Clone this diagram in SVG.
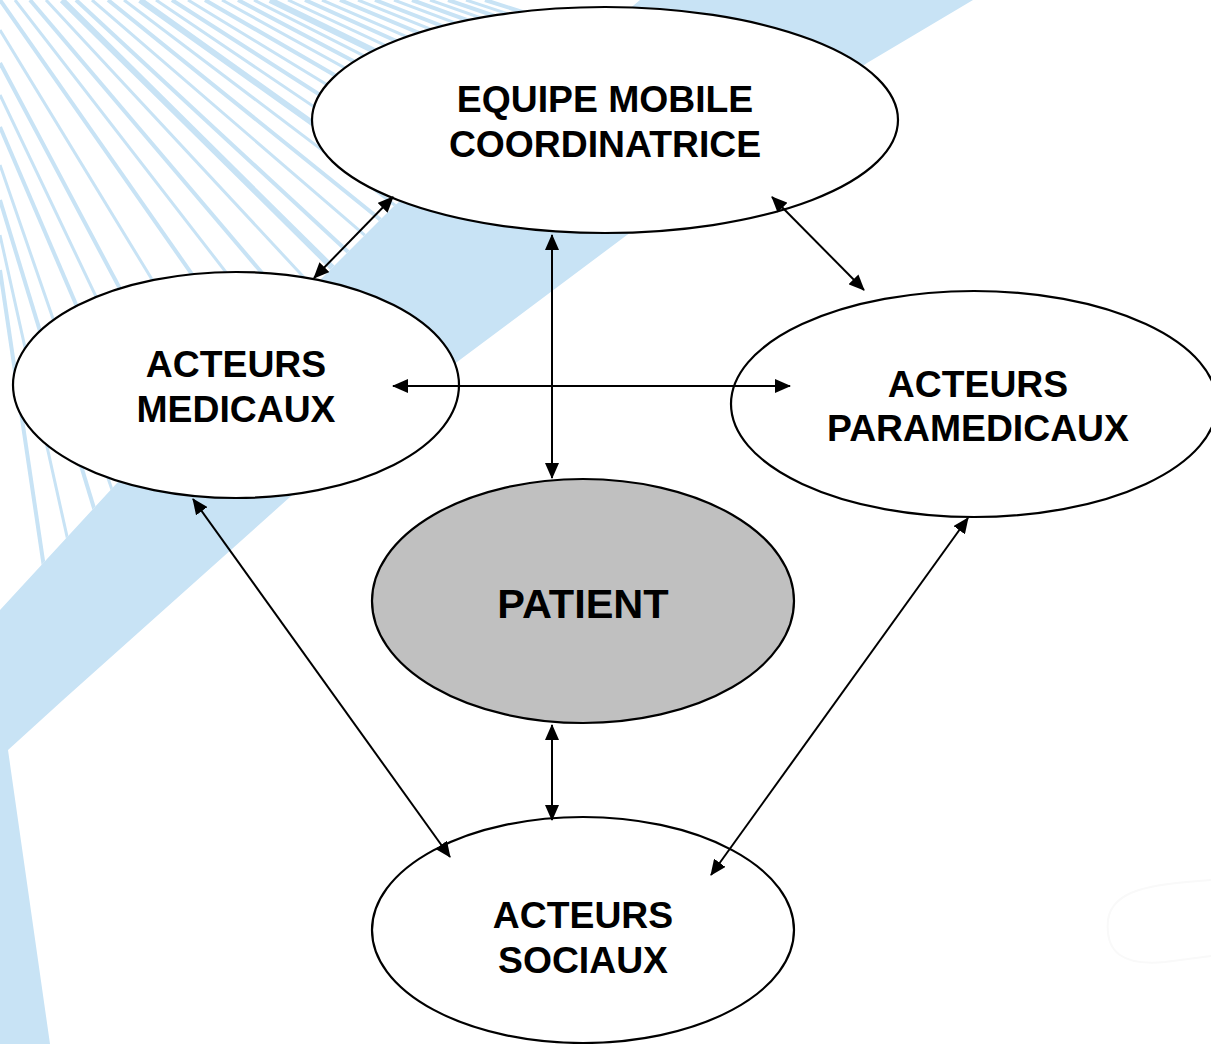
<svg xmlns="http://www.w3.org/2000/svg" width="1211" height="1044" viewBox="0 0 1211 1044">
<style>
.node{fill:#ffffff;stroke:#000000;stroke-width:2.2}
.patient{fill:#c0c0c0;stroke:#000000;stroke-width:2.2}
.lbl{font-family:"Liberation Sans",Arial,sans-serif;font-weight:bold;font-size:37.3px;fill:#000000;text-anchor:middle}
.big{font-size:41.5px}
.conn{stroke:#000000;stroke-width:2;fill:none;marker-start:url(#ah);marker-end:url(#ah)}
.fan{stroke:#c8e3f5;fill:none;stroke-width:4}
.w{stroke-width:6}
.t{stroke-width:3}
</style>
<defs>
<marker id="ah" viewBox="0 0 16 14" refX="15" refY="7" markerWidth="16" markerHeight="14" markerUnits="userSpaceOnUse" orient="auto-start-reverse">
<path d="M0,0 L16,7 L0,14 z" fill="#000000"/>
</marker>
<clipPath id="fanclip">
<polygon points="0,0 640,0 393,207 323,277 117,483 0,610"/>
</clipPath>
</defs>
<rect width="1211" height="1044" fill="#ffffff"/>
<g id="background">
<g clip-path="url(#fanclip)" class="fan">
<line x1="0" y1="270" x2="108" y2="1000"/>
<line x1="0" y1="235" x2="170" y2="1000" class="t"/>
<line x1="0" y1="200" x2="244" y2="1000"/>
<line x1="0" y1="165" x2="288" y2="1000" class="t"/>
<line x1="0" y1="127" x2="374" y2="1000"/>
<line x1="0" y1="95" x2="431" y2="1000" class="t"/>
<line x1="0" y1="63" x2="498" y2="1000"/>
<line x1="0" y1="30" x2="591" y2="1000" class="t"/>
<line x1="0" y1="0" x2="700" y2="1000"/>
<line x1="15" y1="0" x2="790" y2="1000" class="t"/>
<line x1="30" y1="0" x2="880" y2="1000"/>
<line x1="46" y1="0" x2="976" y2="1000" class="t"/>
<line x1="62" y1="0" x2="1072" y2="1000" class="w"/>
<line x1="76" y1="0" x2="1156" y2="1000"/>
<line x1="92" y1="0" x2="1252" y2="1000" class="t"/>
<line x1="108" y1="0" x2="1348" y2="1000"/>
<line x1="124" y1="0" x2="1444" y2="1000" class="t"/>
<line x1="140" y1="0" x2="1540" y2="1000" class="w"/>
<line x1="156" y1="0" x2="1636" y2="1000" class="t"/>
<line x1="172" y1="0" x2="1732" y2="1000"/>
<line x1="188" y1="0" x2="1828" y2="1000" class="t"/>
<line x1="205" y1="0" x2="1930" y2="1000"/>
<line x1="222" y1="0" x2="2032" y2="1000" class="t"/>
<line x1="238" y1="0" x2="2128" y2="1000"/>
<line x1="254" y1="0" x2="2224" y2="1000" class="t"/>
<line x1="270" y1="0" x2="2320" y2="1000" class="w"/>
<line x1="288" y1="0" x2="2428" y2="1000" class="t"/>
<line x1="305" y1="0" x2="2530" y2="1000"/>
<line x1="322" y1="0" x2="2632" y2="1000" class="t"/>
<line x1="340" y1="0" x2="2740" y2="1000"/>
<line x1="358" y1="0" x2="2848" y2="1000" class="t"/>
<line x1="375" y1="0" x2="2950" y2="1000"/>
<line x1="394" y1="0" x2="3064" y2="1000" class="t"/>
<line x1="412" y1="0" x2="3172" y2="1000"/>
<line x1="430" y1="0" x2="3280" y2="1000" class="t"/>
<line x1="448" y1="0" x2="3388" y2="1000"/>
<line x1="466" y1="0" x2="3496" y2="1000" class="t"/>
<line x1="485" y1="0" x2="3610" y2="1000"/>
</g>
<polygon fill="#c8e3f5" points="640,0 973,0 867,63 627,235 457,362 290,497 63,700 8,750 50,1044 0,1044 0,610 117,483 323,277 393,207"/>
<path d="M1211,880 C1150,884 1112,890 1108,920 C1105,952 1122,966 1165,962 L1211,956" fill="none" stroke="#f9f9f9" stroke-width="2"/>
</g>
<g id="node-equipe">
<ellipse class="node" cx="605" cy="120" rx="293" ry="113"/>
<text class="lbl" x="605" y="112">EQUIPE MOBILE</text>
<text class="lbl" x="605" y="157">COORDINATRICE</text>
</g>
<g id="node-medicaux">
<ellipse class="node" cx="236" cy="385" rx="223" ry="113"/>
<text class="lbl" x="236" y="377">ACTEURS</text>
<text class="lbl" x="236" y="422">MEDICAUX</text>
</g>
<g id="node-paramedicaux">
<ellipse class="node" cx="974" cy="404" rx="243" ry="113"/>
<text class="lbl" x="978" y="397">ACTEURS</text>
<text class="lbl" x="978" y="441">PARAMEDICAUX</text>
</g>
<g id="node-patient">
<ellipse class="patient" cx="583" cy="601" rx="211" ry="122"/>
<text class="lbl big" x="583" y="618">PATIENT</text>
</g>
<g id="node-sociaux">
<ellipse class="node" cx="583" cy="930" rx="211" ry="113"/>
<text class="lbl" x="583" y="928">ACTEURS</text>
<text class="lbl" x="583" y="973">SOCIAUX</text>
</g>
<g id="connectors">
<line class="conn" x1="393" y1="197" x2="314" y2="278"/>
<line class="conn" x1="772" y1="197" x2="864" y2="290"/>
<line class="conn" x1="552" y1="235" x2="552" y2="478"/>
<line class="conn" x1="393" y1="386" x2="790" y2="386"/>
<line class="conn" x1="193" y1="499" x2="450" y2="857"/>
<line class="conn" x1="968" y1="518" x2="711" y2="875"/>
<line class="conn" x1="552" y1="725" x2="552" y2="820"/>
</g>
</svg>
